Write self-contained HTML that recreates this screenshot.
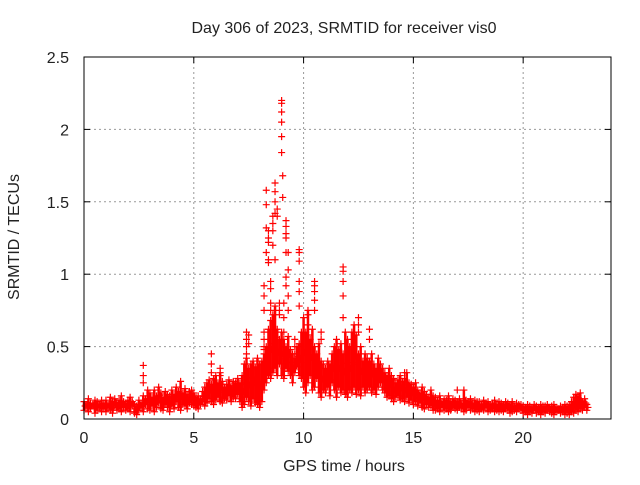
<!DOCTYPE html>
<html><head><meta charset="utf-8"><style>
body{margin:0;background:#fff;}
svg text{font-family:"Liberation Sans",sans-serif;fill:#222;}
</style></head><body>
<svg id="chart" width="640" height="480" viewBox="0 0 640 480" xmlns="http://www.w3.org/2000/svg">
<rect width="640" height="480" fill="#fff"/>
<text x="344" y="33" font-size="16" text-anchor="middle">Day 306 of 2023, SRMTID for receiver vis0</text>
<text x="344" y="471" font-size="16" text-anchor="middle">GPS time / hours</text>
<text x="19" y="237" font-size="16" text-anchor="middle" transform="rotate(-90 19 237)">SRMTID / TECUs</text>
<g id="grid"></g><g id="ticks"></g><g id="marks"></g>
<rect x="84" y="57" width="527" height="362" fill="none" stroke="#000" stroke-width="1"/>
</svg>
<script>
const xTicks=[0,5,10,15,20];
const yTicks=[0,0.5,1,1.5,2,2.5];
const yTickLabels=["0","0.5","1","1.5","2","2.5"];
const bandStart=0, bandStep=0.1;
const bandLo=[.06,.09,.05,.07,.10,.04,.06,.08,.05,.07,
.05,.08,.06,.04,.09,.06,.07,.05,.08,.06,
.07,.05,.09,.04,.03,.06,.08,.05,.10,.07,
.06,.09,.05,.08,.11,.07,.06,.10,.08,.05,
.09,.07,.12,.08,.06,.10,.09,.07,.11,.10,
.09,.08,.07,.10,.12,.09,.11,.14,.12,.10,
.13,.15,.12,.11,.14,.13,.16,.12,.15,.14,
.17,.12,.08,.10,.15,.12,.09,.14,.11,.10,
.08,.12,.20,.25,.30,.28,.32,.35,.30,.38,
.30,.28,.35,.33,.30,.25,.32,.36,.30,.28,
.22,.18,.25,.30,.20,.22,.28,.18,.15,.20,
.18,.22,.16,.25,.20,.15,.22,.18,.20,.17,
.15,.20,.18,.22,.17,.20,.16,.22,.18,.20,
.22,.18,.20,.17,.22,.25,.20,.18,.15,.16,
.14,.12,.15,.16,.13,.14,.12,.15,.11,.13,
.10,.12,.09,.11,.08,.07,.10,.08,.09,.06,
.06,.07,.05,.08,.06,.07,.05,.06,.08,.07,
.06,.08,.07,.05,.06,.08,.06,.07,.05,.06,
.05,.07,.06,.08,.05,.06,.07,.05,.06,.05,
.06,.05,.07,.06,.04,.05,.06,.05,.07,.06,
.04,.05,.03,.05,.04,.06,.04,.05,.03,.05,
.04,.06,.05,.04,.03,.05,.06,.04,.05,.03,
.04,.03,.05,.04,.06,.05,.07,.06,.08,.06];
const bandHi=[.12,.10,.14,.11,.09,.13,.12,.10,.13,.11,
.13,.10,.15,.12,.14,.11,.13,.16,.12,.11,
.13,.15,.12,.10,.09,.13,.11,.16,.14,.20,
.18,.15,.20,.16,.22,.18,.15,.19,.17,.16,
.20,.17,.22,.19,.26,.18,.21,.17,.19,.20,
.18,.15,.16,.14,.19,.22,.25,.27,.24,.28,
.30,.25,.32,.26,.22,.24,.27,.23,.26,.25,
.28,.25,.30,.38,.42,.35,.38,.40,.36,.42,
.38,.40,.45,.50,.62,.68,.72,.78,.62,.55,
.60,.55,.50,.57,.48,.45,.42,.50,.52,.60,
.70,.60,.75,.55,.62,.50,.45,.52,.40,.38,
.35,.40,.38,.45,.50,.55,.48,.52,.45,.60,
.55,.50,.60,.65,.58,.45,.50,.40,.45,.42,
.40,.45,.38,.35,.42,.38,.35,.32,.30,.35,
.30,.28,.25,.27,.30,.26,.28,.32,.25,.24,
.22,.25,.20,.18,.22,.19,.17,.15,.20,.16,
.15,.13,.16,.12,.14,.13,.16,.12,.14,.13,
.12,.14,.11,.20,.13,.12,.14,.11,.13,.12,
.12,.10,.13,.11,.12,.10,.11,.13,.10,.12,
.11,.10,.12,.11,.10,.12,.09,.11,.10,.10,
.09,.08,.10,.09,.08,.10,.09,.08,.10,.09,
.09,.10,.08,.09,.10,.08,.07,.09,.08,.10,
.09,.10,.12,.15,.17,.16,.18,.12,.14,.10];
const spikeT=[2.7,2.7,2.7,5.8,5.8,5.8,6.2,6.2,7.4,7.4,7.4,7.4,7.5,7.5,
8.2,8.2,8.2,8.2,8.2,8.2,8.2,8.3,8.3,8.3,8.3,8.4,8.4,8.4,8.4,8.4,
8.6,8.6,8.6,8.6,8.7,8.7,8.7,8.7,8.7,8.8,8.8,
9.0,9.0,9.0,9.0,9.0,9.0,9.05,9.05,
9.2,9.2,9.2,9.2,9.2,9.2,9.2,9.3,9.3,9.3,9.3,
9.1,9.1,9.1,9.1,9.1,9.1,9.8,9.8,9.8,9.8,9.8,9.8,
10.5,10.5,10.5,10.5,10.5,11.8,11.8,11.8,11.8,11.8,12.5,12.5,12.5,13.0,13.0,14.6,17.0,
8.5,8.5,8.5,8.5,8.9,8.9,8.9,9.6,9.6,9.6,10.2,10.2,10.2,10.8,10.8];
const spikeV=[.37,.30,.25,.45,.38,.32,.35,.30,.60,.55,.50,.45,.58,.52,
.92,.85,.75,.60,.55,.50,.48,1.58,1.48,1.32,1.15,1.10,1.08,1.30,1.25,1.22,
1.40,1.35,1.30,1.20,1.63,1.57,1.50,1.42,1.10,1.45,1.40,
2.20,2.18,2.12,2.05,1.95,1.84,1.68,1.53,
1.37,1.33,1.28,1.25,1.15,.98,.92,1.15,1.03,.85,.75,
.80,.70,.60,.45,.35,.30,1.17,1.15,1.09,.95,.88,.78,
.95,.92,.88,.82,.75,1.05,1.02,.95,.85,.70,.70,.65,.60,.62,.55,.32,.20,
.95,.90,.80,.75,.80,.75,.72,.55,.50,.45,.72,.65,.58,.60,.55];

const X0=84,X1=611,Y0=419,Y1=57,XMAX=24,YMAX=2.5;
const sx=v=>X0+(X1-X0)*v/XMAX;
const sy=v=>Y0-(Y0-Y1)*v/YMAX;
const NS="http://www.w3.org/2000/svg";
const mk=(tag,attrs,parent)=>{const e=document.createElementNS(NS,tag);for(const k in attrs)e.setAttribute(k,attrs[k]);parent.appendChild(e);return e;};
const grid=document.getElementById('grid'),ticks=document.getElementById('ticks'),marks=document.getElementById('marks');
xTicks.forEach((t,i)=>{const x=sx(t);
 if(i>0){const g=mk('line',{x1:x,x2:x,y1:Y0,y2:Y1,stroke:'#999','stroke-dasharray':'2,3'},grid);
 
 }
 mk('line',{x1:x,x2:x,y1:Y0,y2:Y0-6,stroke:'#000'},ticks);
 mk('line',{x1:x,x2:x,y1:Y1,y2:Y1+6,stroke:'#000'},ticks);
 const l=mk('text',{x:x,y:Y0+24,'font-size':16,'text-anchor':'middle'},ticks);l.textContent=t;
 
 });
yTicks.forEach((t,i)=>{const y=sy(t);
 if(i>0&&i<yTicks.length-1){const g=mk('line',{x1:X0,x2:X1,y1:y,y2:y,stroke:'#999','stroke-dasharray':'2,3'},grid);
 
 }
 mk('line',{x1:X0,x2:X0+6,y1:y,y2:y,stroke:'#000'},ticks);
 mk('line',{x1:X1,x2:X1-6,y1:y,y2:y,stroke:'#000'},ticks);
 const l=mk('text',{x:X0-15,y:y+6,'font-size':16,'text-anchor':'end'},ticks);l.textContent=yTickLabels[i];
 
 });
function plus(t,v){const x=sx(t),y=sy(v);
 const p=mk('path',{d:`M${x-3.5},${y}H${x+3.5}M${x},${y-3.5}V${y+3.5}`,stroke:'#f00','stroke-width':1.2,fill:'none'},marks);
 
 }
bandLo.forEach((lo,i)=>{const t=bandStart+i*bandStep,hi=bandHi[i];
 const r=mk('line',{x1:sx(t),x2:sx(t),y1:sy(lo),y2:sy(hi),stroke:'#f00','stroke-width':2.5},marks);
 
 
 plus(t,lo);plus(t,hi);plus(t+0.05,(lo+hi)/2);});
spikeT.forEach((t,i)=>plus(t,spikeV[i]));
</script>
</body></html>
